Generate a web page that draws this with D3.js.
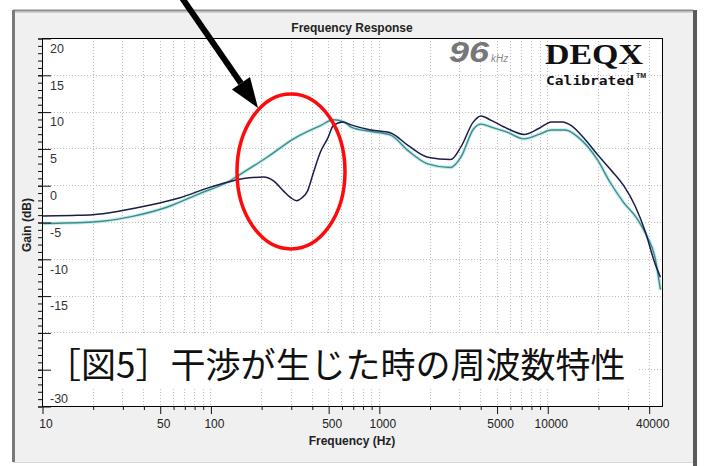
<!DOCTYPE html>
<html>
<head>
<meta charset="utf-8">
<script src="https://cdn.jsdelivr.net/npm/d3@7/dist/d3.min.js"></script>
<style>
  html, body { margin: 0; padding: 0; background: #ffffff; }
  svg { display: block; }
</style>
</head>
<body>
<svg id="chart" width="707" height="466"></svg>
<script>
// ---------------- DATA ----------------
const darkFreq = [10, 15, 20, 29, 44, 66, 96, 126, 157, 207, 237, 272, 300, 325, 350, 377, 410, 450, 500, 536, 610, 684, 897, 1176, 1490, 1950, 2670, 3070, 3640, 4040, 4650, 5780, 7290, 8900, 10600, 12300, 13900, 16500, 19800, 23600, 28500, 33200, 38300, 43400, 47000];
const darkGain = [-4.2, -4.1, -4.0, -3.5, -2.7, -1.7, -0.4, 0.4, 0.9, 1.1, 0.6, -0.8, -1.7, -2.1, -1.7, -0.8, 1.8, 4.5, 6.5, 8.1, 8.6, 8.2, 7.5, 7.1, 5.4, 3.8, 3.5, 5.2, 8.6, 9.4, 8.8, 7.7, 6.9, 7.7, 8.6, 8.6, 8.1, 6.4, 4.2, 2.2, -0.1, -2.8, -6.4, -10.5, -12.5];

const tealFreq = [10, 20, 35, 55, 87, 126, 151, 217, 312, 450, 536, 620, 684, 897, 1176, 1490, 1950, 2670, 3070, 3640, 4040, 4650, 5780, 7290, 8900, 10600, 12800, 15300, 19800, 23600, 28500, 34300, 39000, 43400, 47000];
const tealGain = [-5.2, -5.0, -4.2, -3.0, -1.1, 0.4, 1.5, 3.8, 6.3, 8.1, 8.9, 8.6, 7.9, 7.3, 6.8, 4.7, 2.9, 2.4, 3.8, 7.6, 8.3, 7.9, 7.2, 6.3, 6.9, 7.5, 7.5, 6.5, 3.5, 0.4, -2.4, -4.6, -6.9, -9.6, -14.2];

const xLabelTicks = [10, 50, 100, 500, 1000, 5000, 10000, 40000];
const yLabelTicks = [20, 15, 10, 5, 0, -5, -10, -15, -20, -25, -30];

const titleText = "Frequency Response";
const xTitle = "Frequency (Hz)";
const yTitle = "Gain (dB)";
const captionText = "［図5］干渉が生じた時の周波数特性";

// ---------------- LAYOUT ----------------
const svg = d3.select("#chart");
const plot = { left: 42, right: 662, top: 38, bottom: 406 };

const x = d3.scaleLog().domain([10, 48000]).range([plot.left, plot.right]);
const y = d3.scaleLinear().domain([-30, 20]).range([plot.bottom, plot.top]);

const xAllTicks = [];
for (let dec = 10; dec <= 10000; dec *= 10) {
  for (let m = 1; m <= 9; m++) {
    const v = dec * m;
    if (v <= 40000) xAllTicks.push(v);
  }
}
const yMinor = d3.range(-30, 21, 1);

// ---------------- PANEL ----------------
svg.append("rect").attr("x", 13).attr("y", 10).attr("width", 680).attr("height", 452)
  .attr("fill", "#f0f0f0");
svg.append("line").attr("x1", 13).attr("x2", 693).attr("y1", 10.5).attr("y2", 10.5)
  .attr("stroke", "#8c8c8c").attr("stroke-width", 2);
svg.append("line").attr("x1", 14).attr("x2", 693).attr("y1", 12.5).attr("y2", 12.5)
  .attr("stroke", "#d0d0d0").attr("stroke-width", 1);
svg.append("line").attr("x1", 13.5).attr("x2", 13.5).attr("y1", 10).attr("y2", 462)
  .attr("stroke", "#7a7a7a").attr("stroke-width", 3);
svg.append("line").attr("x1", 695).attr("x2", 695).attr("y1", 10).attr("y2", 466)
  .attr("stroke", "#5a5a5a").attr("stroke-width", 4);
svg.append("line").attr("x1", 13).attr("x2", 693).attr("y1", 462.5).attr("y2", 462.5)
  .attr("stroke", "#d8d8d8").attr("stroke-width", 1);

svg.append("rect").attr("x", plot.left).attr("y", plot.top)
  .attr("width", plot.right - plot.left).attr("height", plot.bottom - plot.top)
  .attr("fill", "#ffffff");

// ---------------- GRID ----------------
const grid = svg.append("g").attr("class", "grid");
grid.selectAll("line.v").data(xAllTicks.filter(d => d > 10)).join("line")
  .attr("class", "v")
  .attr("x1", d => Math.round(x(d)) + 0.5).attr("x2", d => Math.round(x(d)) + 0.5)
  .attr("y1", plot.top).attr("y2", plot.bottom)
  .attr("stroke", "#bdbdbd").attr("stroke-width", 1).attr("stroke-dasharray", "1,2");
grid.selectAll("line.h").data(yLabelTicks.filter(d => d > -30 && d < 20)).join("line")
  .attr("class", "h")
  .attr("x1", plot.left).attr("x2", plot.right)
  .attr("y1", d => Math.round(y(d)) + 0.5).attr("y2", d => Math.round(y(d)) + 0.5)
  .attr("stroke", "#bdbdbd").attr("stroke-width", 1).attr("stroke-dasharray", "1,2");

// ---------------- LINES ----------------
const darkData = darkFreq.map((f, i) => [f, darkGain[i]]);
const tealData = tealFreq.map((f, i) => [f, tealGain[i]]);
const line = d3.line().x(d => x(d[0])).y(d => y(d[1])).curve(d3.curveMonotoneX);

svg.append("clipPath").attr("id", "clip").append("rect")
  .attr("x", plot.left).attr("y", plot.top)
  .attr("width", plot.right - plot.left).attr("height", plot.bottom - plot.top);
const lines = svg.append("g").attr("clip-path", "url(#clip)");

lines.append("path").datum(tealData).attr("d", line)
  .attr("fill", "none").attr("stroke", "#c4eeee").attr("stroke-width", 3.5);
lines.append("path").datum(tealData).attr("d", line)
  .attr("fill", "none").attr("stroke", "#3f8b8b").attr("stroke-width", 1.4);
lines.append("path").datum(darkData).attr("d", line)
  .attr("fill", "none").attr("stroke", "#1c1c48").attr("stroke-width", 1.5);

// ---------------- CAPTION BOX ----------------
svg.append("rect").attr("x", plot.left + 1).attr("y", 335)
  .attr("width", 594).attr("height", 53).attr("fill", "#ffffff");
svg.append("text").attr("x", 46).attr("y", 378)
  .attr("font-family", "'Noto Sans CJK JP', sans-serif")
  .attr("font-size", 35).attr("fill", "#111")
  .text(captionText);

// ---------------- FRAME ----------------
svg.append("rect").attr("x", plot.left + 0.5).attr("y", plot.top + 0.5)
  .attr("width", plot.right - plot.left).attr("height", plot.bottom - plot.top)
  .attr("fill", "none").attr("stroke", "#000").attr("stroke-width", 1);

// ---------------- AXES ----------------
const xAxis = d3.axisBottom(x)
  .tickValues(xAllTicks)
  .tickFormat(d => xLabelTicks.includes(d) ? String(d) : "")
  .tickSize(3).tickPadding(5);
const gx = svg.append("g").attr("transform", `translate(0.5,${plot.bottom + 1})`).call(xAxis);
gx.select(".domain").remove();
gx.selectAll(".tick line").attr("stroke", "#111")
  .attr("y2", d => xLabelTicks.includes(d) ? 7 : 3);
gx.selectAll(".tick text").attr("font-family", "Arial, 'Liberation Sans', sans-serif")
  .attr("font-size", 12).attr("fill", "#222").attr("dx", 3).attr("y", 12);

const yAxisMinor = d3.axisLeft(y).tickValues(yMinor).tickFormat("").tickSize(4);
const gym = svg.append("g").attr("transform", `translate(${plot.left},0.5)`).call(yAxisMinor);
gym.select(".domain").remove();
gym.selectAll(".tick line").attr("stroke", "#111");

const yAxisMajor = d3.axisRight(y).tickValues(yLabelTicks).tickSize(9).tickPadding(0)
  .tickFormat(d => String(d));
const gy = svg.append("g").attr("transform", `translate(${plot.left},0.5)`).call(yAxisMajor);
gy.select(".domain").remove();
gy.selectAll(".tick line").attr("stroke", "#111").attr("x1", -4);
gy.selectAll(".tick text")
  .attr("font-family", "Arial, 'Liberation Sans', sans-serif")
  .attr("font-size", 12.5).attr("fill", "#333")
  .attr("x", 8).attr("dy", d => d === -30 ? "-0.3em" : "1.1em")
  .style("display", d => (d === -20 || d === -25) ? "none" : null);

// ---------------- TITLES ----------------
svg.append("text").attr("x", 352).attr("y", 32).attr("text-anchor", "middle")
  .attr("font-family", "Arial, 'Liberation Sans', sans-serif").attr("font-weight", "bold")
  .attr("font-size", 12).attr("fill", "#222").text(titleText);
svg.append("text").attr("x", 352).attr("y", 445).attr("text-anchor", "middle")
  .attr("font-family", "Arial, 'Liberation Sans', sans-serif").attr("font-weight", "bold")
  .attr("font-size", 12).attr("fill", "#222").text(xTitle);
svg.append("text").attr("transform", "translate(31,225) rotate(-90)").attr("text-anchor", "middle")
  .attr("font-family", "Arial, 'Liberation Sans', sans-serif").attr("font-weight", "bold")
  .attr("font-size", 12).attr("fill", "#222").text(yTitle);

// ---------------- LOGO ----------------
svg.append("text").attr("x", 449).attr("y", 62)
  .attr("font-family", "Arial, 'Liberation Sans', sans-serif").attr("font-weight", "bold")
  .attr("font-style", "italic").attr("font-size", 30).attr("fill", "#777")
  .attr("textLength", 40).attr("lengthAdjust", "spacingAndGlyphs").text("96");
svg.append("text").attr("x", 491).attr("y", 62)
  .attr("font-family", "Arial, 'Liberation Sans', sans-serif")
  .attr("font-style", "italic").attr("font-size", 10).attr("fill", "#8a8a8a").text("kHz");
svg.append("text").attr("x", 545).attr("y", 64)
  .attr("font-family", "'Liberation Serif', 'Times New Roman', serif").attr("font-weight", "bold")
  .attr("font-size", 29).attr("fill", "#111")
  .attr("textLength", 98).attr("lengthAdjust", "spacingAndGlyphs").text("DEQX");
svg.append("text").attr("x", 546).attr("y", 85)
  .attr("font-family", "'DejaVu Sans Mono', monospace").attr("font-weight", "bold")
  .attr("font-size", 13).attr("fill", "#111")
  .attr("textLength", 88).attr("lengthAdjust", "spacingAndGlyphs").text("Calibrated");
svg.append("text").attr("x", 636).attr("y", 78)
  .attr("font-family", "Arial, sans-serif").attr("font-weight", "bold")
  .attr("font-size", 7).attr("fill", "#111").text("TM");

// ---------------- ANNOTATIONS ----------------
svg.append("ellipse").attr("cx", 291).attr("cy", 171.5).attr("rx", 54).attr("ry", 77.5)
  .attr("fill", "none").attr("stroke", "#ff0a0a").attr("stroke-width", 3.5);

const tip = [258, 108], start = [182, -2];
const ang = Math.atan2(tip[1] - start[1], tip[0] - start[0]);
const headLen = 30, headW = 11;
const bx = tip[0] - headLen * Math.cos(ang), by = tip[1] - headLen * Math.sin(ang);
svg.append("line").attr("x1", start[0]).attr("y1", start[1]).attr("x2", bx).attr("y2", by)
  .attr("stroke", "#000").attr("stroke-width", 6);
svg.append("path")
  .attr("d", `M${tip[0]},${tip[1]} L${bx + headW * Math.sin(ang)},${by - headW * Math.cos(ang)} L${bx - headW * Math.sin(ang)},${by + headW * Math.cos(ang)} Z`)
  .attr("fill", "#000");
</script>
</body>
</html>
